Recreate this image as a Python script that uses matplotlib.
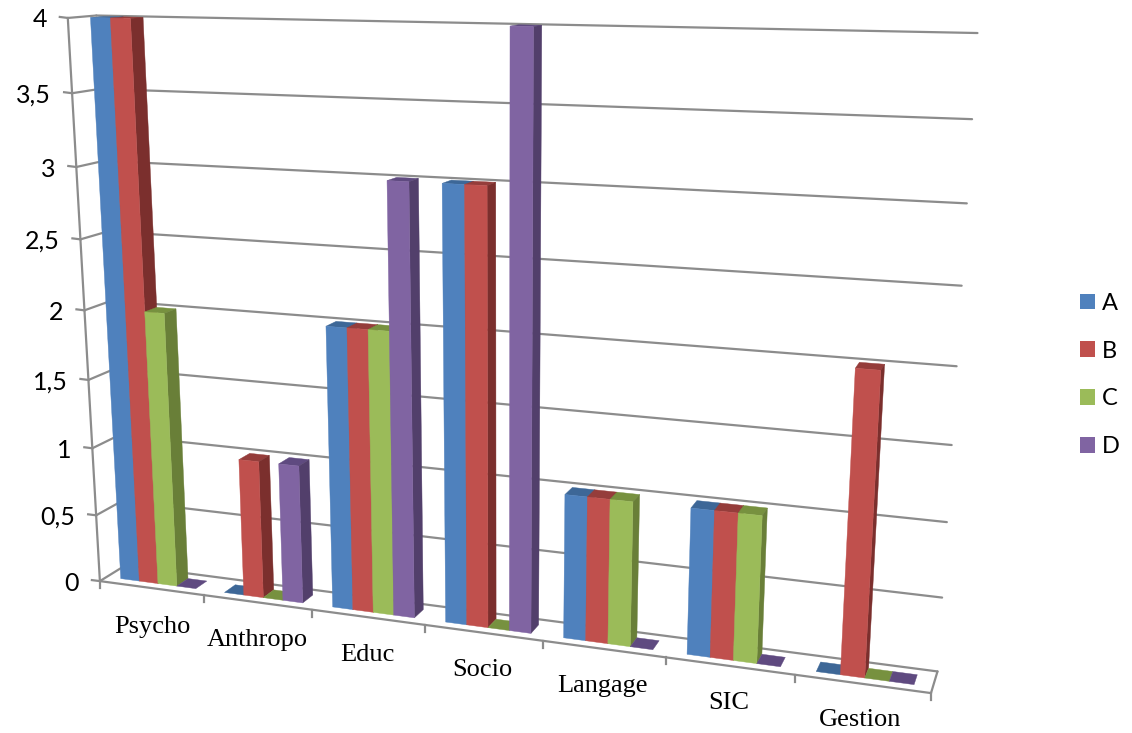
import numpy as np
import matplotlib
matplotlib.use("Agg")
from matplotlib import pyplot as plt
from matplotlib.patches import Patch

categories = ["Psycho", "Anthropo", "Educ", "Socio", "Langage", "SIC", "Gestion"]
series_names = ["A", "B", "C", "D"]
a_values = [4, 0, 2, 3, 1, 1, 0]
b_values = [4, 1, 2, 3, 1, 1, 2]
c_values = [2, 0, 2, 0, 1, 1, 0]
d_values = [0, 1, 3, 4, 0, 0, 0]
value_ticks = [0, 0.5, 1, 1.5, 2, 2.5, 3, 3.5, 4]

front_colors = ["#4f81bd", "#c0504d", "#9bbb59", "#8064a2"]
top_colors = ["#3d6797", "#953d3b", "#77913f", "#5f4a80"]
side_colors = ["#355a85", "#7b2f2d", "#697f38", "#523f6b"]
grid_color = "#8c8c8c"

bar_w = 1/5.5
depth0, depth1 = 0.27, 0.73

# 3d points -> where they land on the picture (box corners, then some bar corners)
calib_3d = [(0, 0, 0), (7, 0, 0), (0, 1, 0), (7, 1, 0), (0, 1, 4), (7, 1, 4), (0, 0, 4),
            (0.75*bar_w, depth0, 0), (0.75*bar_w, depth0, 4),
            (3 + 4.75*bar_w, depth0, 4), (3 + 4.75*bar_w, depth0, 0),
            (6 + 2.75*bar_w, depth0, 2), (6 + 2.75*bar_w, depth0, 0),
            (5 + 0.75*bar_w, depth0, 1), (5 + 0.75*bar_w, depth0, 0)]
calib_px = [(100.7, 580), (930, 695), (122, 568), (937, 670), (100, 15), (977, 32), (65, 18),
            (123, 577), (90, 18),
            (533, 27), (531, 632),
            (881, 371), (866, 678),
            (692, 509), (687, 654)]


def fit_camera(pts3, pts2):
    rows = []
    for (x, y, z), (u, v) in zip(pts3, pts2):
        rows.append([x, y, z, 1, 0, 0, 0, 0, -u*x, -u*y, -u*z, -u])
        rows.append([0, 0, 0, 0, x, y, z, 1, -v*x, -v*y, -v*z, -v])
    return np.linalg.svd(np.array(rows))[2][-1].reshape(3, 4)


P = fit_camera(calib_3d, calib_px)


def project(x, y, z):
    u, v, w = P @ np.array([x, y, z, 1.0])
    return u/w, v/w


def face(ax, corners, color, z):
    pts = [project(*c) for c in corners]
    ax.fill([p[0] for p in pts], [p[1] for p in pts], color=color, lw=0.3, zorder=z)


def line3d(ax, a, b, z=1, lw=1.6):
    pa, pb = project(*a), project(*b)
    ax.plot([pa[0], pb[0]], [pa[1], pb[1]], color=grid_color, lw=lw, zorder=z,
            solid_capstyle="round")


def draw_bar(ax, x0, x1, val, k, z):
    y0, y1 = depth0, depth1
    face(ax, [(x0, y0, val), (x1, y0, val), (x1, y1, val), (x0, y1, val)], top_colors[k], z)
    if val > 0:
        face(ax, [(x1, y0, 0), (x1, y1, 0), (x1, y1, val), (x1, y0, val)], side_colors[k], z)
        face(ax, [(x0, y0, 0), (x1, y0, 0), (x1, y0, val), (x0, y0, val)], front_colors[k], z)


fig = plt.figure(figsize=(11.32, 7.33), dpi=100)
ax = fig.add_axes([0, 0, 1, 1])
ax.set_xlim(0, 1132)
ax.set_ylim(733, 0)
ax.axis("off")

# walls
for val in value_ticks:
    line3d(ax, (0, 0, val), (0, 1, val))
    line3d(ax, (0, 1, val), (7, 1, val))
    px, py = project(0, 0, val)
    ax.plot([px - 8, px], [py - 1, py], color=grid_color, lw=1.6, zorder=1)
    ax.text(px - 21, py + 2, str(val).replace(".", ","), ha="right", va="center",
            fontsize=18, family="Lato", color="black")
line3d(ax, (0, 0, 0), (0, 0, 4))
line3d(ax, (0, 0, 0), (7, 0, 0))
line3d(ax, (7, 0, 0), (7, 1, 0))
for i in range(8):
    px, py = project(i, 0, 0)
    ax.plot([px, px], [py, py + 7], color=grid_color, lw=1.6, zorder=1)

# bars, left to right so that later ones hide the side of earlier ones
all_values = [a_values, b_values, c_values, d_values]
for i in range(len(categories)):
    for k, vals in enumerate(all_values):
        x0 = i + 0.75*bar_w + k*bar_w
        draw_bar(ax, x0, x0 + bar_w, vals[i], k, 3 + i + k*0.1)

for i, name in enumerate(categories):
    px, py = project(i + 0.5, 0, 0)
    ax.text(px + 1 - 0.5*i, py + 38.5 - 0.4*i, name, ha="center", va="center", fontsize=19,
            family="Liberation Serif", color="black")

handles = [Patch(facecolor=c, label=n) for c, n in zip(front_colors, series_names)]
ax.legend(handles=handles, loc="center left", bbox_to_anchor=(1080/1132, 1 - 375/733),
          frameon=False, handlelength=0.635, handleheight=0.635,
          labelspacing=1.14, handletextpad=0.3, borderpad=0, borderaxespad=0,
          prop={"family": "Lato", "size": 17})

fig.savefig("out.png", dpi=100)
